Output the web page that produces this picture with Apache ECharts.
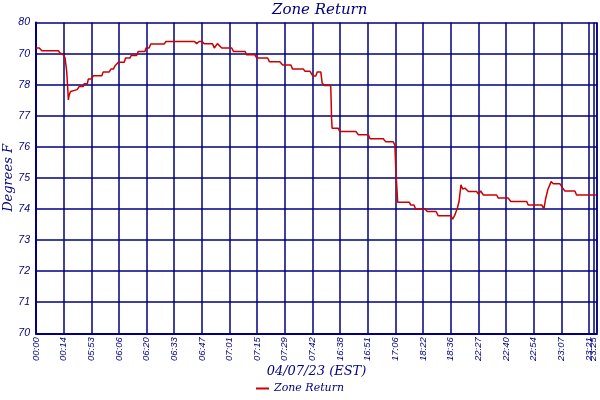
<!DOCTYPE html>
<html>
<head>
<meta charset="utf-8">
<script src="https://cdn.jsdelivr.net/npm/echarts@6/dist/echarts.min.js"></script>
<style>html,body{margin:0;padding:0;background:#fff}#c{width:600px;height:400px}</style>
</head>
<body>
<div id="c"></div>
<script>
// x positions are in "tick slots" (0 = 00:00 label, 1 = 00:14 label, ...)
const xTickLabels = ['00:00','00:14','05:53','06:06','06:20','06:33','06:47','07:01','07:15','07:29','07:42','16:38','16:51','17:06','18:22','18:36','22:27','22:40','22:54','23:07','23:21'];
const extraTickPos = 20.16;
const extraTickLabel = '23:25';
const xMax = 20.29;
const yTickLabels = ['70','71','72','73','74','75','76','77','78','70','80'];

const seriesName = 'Zone Return';
const xs = [0,0.12,0.21,0.81,0.87,0.93,0.99,1.05,1.11,1.15,1.17,1.20,1.25,1.29,1.49,1.56,1.71,1.74,1.86,1.89,2.01,2.07,2.38,2.43,2.65,2.71,2.80,2.86,2.98,3.19,3.24,3.40,3.44,3.64,3.70,3.94,3.98,4.09,4.15,4.64,4.70,5.73,5.81,5.90,6.01,6.08,6.38,6.45,6.56,6.72,7.08,7.14,7.56,7.62,7.92,7.98,8.38,8.44,8.82,8.92,9.22,9.28,9.67,9.73,9.91,10.01,10.12,10.17,10.30,10.35,10.43,10.66,10.69,10.71,10.93,10.99,11.57,11.66,12.02,12.08,12.56,12.65,12.92,12.98,13.02,13.06,13.08,13.50,13.55,13.67,13.73,14.07,14.15,14.47,14.55,15.00,15.07,15.15,15.24,15.30,15.37,15.43,15.51,15.58,15.64,15.94,16.00,16.08,16.18,16.66,16.72,17.08,17.17,17.75,17.80,18.29,18.37,18.43,18.51,18.63,18.71,18.95,19.05,19.13,19.49,19.55,20.25];
const ys = [79.18,79.18,79.09,79.09,79.02,79.07,78.96,78.86,78.43,77.84,77.51,77.67,77.78,77.84,77.84,77.94,77.94,78.03,78.03,78.18,78.18,78.29,78.29,78.41,78.41,78.50,78.50,78.61,78.72,78.72,78.86,78.86,78.94,78.94,79.07,79.07,79.18,79.18,79.31,79.31,79.39,79.39,79.32,79.39,79.39,79.32,79.32,79.18,79.32,79.18,79.18,79.07,79.07,78.96,78.96,78.86,78.86,78.74,78.74,78.63,78.63,78.50,78.50,78.43,78.43,78.28,78.28,78.41,78.41,78.05,77.97,77.97,76.92,76.60,76.60,76.49,76.49,76.39,76.39,76.26,76.26,76.16,76.16,76.05,75.15,74.56,74.22,74.22,74.13,74.13,74.00,74.00,73.92,73.92,73.78,73.78,73.67,73.81,74.03,74.24,74.78,74.64,74.67,74.67,74.56,74.56,74.48,74.58,74.45,74.45,74.35,74.35,74.24,74.24,74.13,74.13,74.00,74.32,74.62,74.88,74.81,74.81,74.67,74.58,74.58,74.45,74.45];

const navy = '#000080';
const chart = echarts.init(document.getElementById('c'), null, {renderer:'canvas'});
const tickFont = {color: navy, fontStyle: 'italic', fontFamily: 'Liberation Sans', fontSize: 9.5};
chart.setOption({
  animation: false,
  title: {
    text: 'Zone Return', left: 267, top: -2,
    textStyle: {color: navy, fontFamily: 'DejaVu Serif', fontStyle: 'italic', fontWeight: 'normal', fontSize: 15}
  },
  legend: {
    bottom: 1, left: 'center', icon: 'rect', itemWidth: 13, itemHeight: 2,
    textStyle: {color: navy, fontFamily: 'DejaVu Serif', fontStyle: 'italic', fontSize: 11},
    data: [seriesName]
  },
  grid: {left: 36, right: 3, top: 22.5, bottom: 66.7, containLabel: false, outerBoundsMode: 'none'},
  xAxis: [{
    type: 'value', min: 0, max: xMax, interval: 1,
    name: '04/07/23 (EST)', nameLocation: 'middle', nameGap: 32, nameMoveOverlap: false,
    nameTextStyle: {color: navy, fontFamily: 'DejaVu Serif', fontStyle: 'italic', fontSize: 13},
    axisLine: {show: true, lineStyle: {color: navy, width: 2}},
    axisTick: {show: false},
    splitLine: {show: true, lineStyle: {color: navy, width: 1.5}},
    axisLabel: Object.assign({rotate: 90, margin: 4, showMaxLabel: true, formatter: function (v) {
      const i = Math.round(v);
      return Math.abs(v - i) < 1e-6 && i < xTickLabels.length ? xTickLabels[i] : '';
    }}, tickFont)
  }, {
    type: 'value', position: 'bottom', min: 0, max: xMax, interval: extraTickPos,
    axisLine: {show: false}, axisTick: {show: false},
    splitLine: {show: true, lineStyle: {color: navy, width: 1.5}},
    axisLabel: Object.assign({rotate: 90, margin: 4, formatter: function (v) {
      return Math.abs(v - extraTickPos) < 1e-6 ? extraTickLabel : '';
    }}, tickFont)
  }],
  yAxis: {
    type: 'value', min: 70, max: 80, interval: 1,
    name: 'Degrees F', nameLocation: 'middle', nameGap: 21, nameRotate: 90, nameMoveOverlap: false,
    nameTextStyle: {color: navy, fontFamily: 'DejaVu Serif', fontStyle: 'italic', fontSize: 13},
    axisLine: {show: true, lineStyle: {color: navy, width: 2}},
    axisTick: {show: false},
    splitLine: {show: true, lineStyle: {color: navy, width: 1.5}},
    axisLabel: Object.assign({margin: 6, fontSize: 10.5, formatter: function (v) {
      return yTickLabels[Math.round(v - 70)];
    }}, {color: navy, fontStyle: 'italic', fontFamily: 'Liberation Sans'})
  },
  series: [{
    name: seriesName, type: 'line', xAxisIndex: 0, showSymbol: false,
    lineStyle: {color: '#cc0000', width: 1.5}, itemStyle: {color: '#cc0000'},
    data: xs.map(function (x, i) { return [x, ys[i]]; })
  }]
});
</script>
</body>
</html>
